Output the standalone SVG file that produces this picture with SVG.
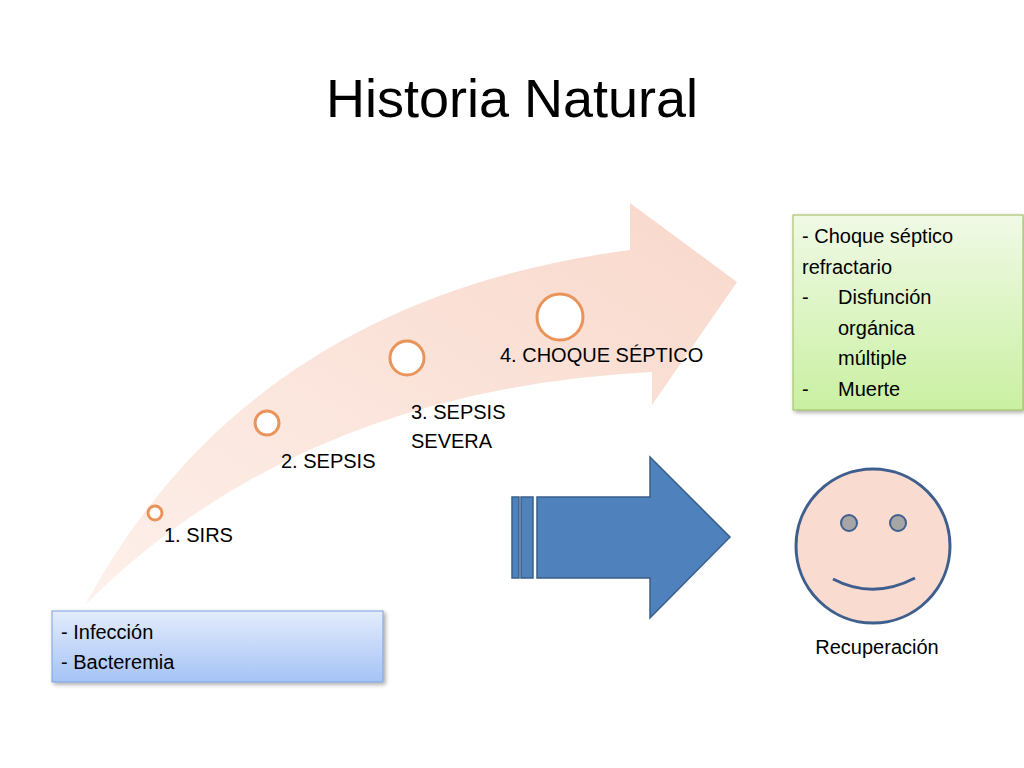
<svg xmlns="http://www.w3.org/2000/svg" width="1024" height="768" viewBox="0 0 1024 768">
<style>
text{font-family:"Liberation Sans","Open Sans",sans-serif;fill:#000}
.t{font-size:20px}
.c{fill:#fff;stroke:#e8945a;stroke-width:3}
</style>
<defs>
<linearGradient id="ga" x1="0" y1="1" x2="1" y2="0"><stop offset="0" stop-color="#fdf0ea"/><stop offset="1" stop-color="#f9d8cb"/></linearGradient>
<linearGradient id="gg" x1="0" y1="0" x2="0" y2="1"><stop offset="0" stop-color="#f0f9e6"/><stop offset="1" stop-color="#c9f0a2"/></linearGradient>
<linearGradient id="gb" x1="0" y1="0" x2="0" y2="1"><stop offset="0" stop-color="#e3ecfc"/><stop offset="1" stop-color="#a5c3f6"/></linearGradient>
<filter id="sh"><feDropShadow dx="2" dy="2" stdDeviation="2" flood-opacity="0.35"/></filter>
</defs>
<rect width="1024" height="768" fill="#fff"/>
<text x="512" y="117" font-size="54" text-anchor="middle">Historia Natural</text>
<g id="curved-arrow">
<path d="M85,605 Q250,300 630,250 L630,203 L737,282 L652,405 L652,372 Q300,390 85,605 Z" fill="url(#ga)"/>
<circle class="c" cx="155" cy="513" r="7"/>
<circle class="c" cx="267" cy="423" r="12"/>
<circle class="c" cx="407" cy="358" r="17"/>
<circle class="c" cx="560" cy="317" r="23"/>
<text class="t" x="164" y="542">1. SIRS</text>
<text class="t" x="281" y="468">2. SEPSIS</text>
<text class="t" x="411" y="419">3. SEPSIS</text>
<text class="t" x="411" y="448">SEVERA</text>
<text class="t" x="500" y="362">4. CHOQUE SÉPTICO</text>
</g>
<g id="box-end">
<rect x="793" y="215" width="230" height="195" fill="url(#gg)" stroke="#9bbb59" filter="url(#sh)"/>
<text class="t" x="802" y="243">- Choque séptico</text>
<text class="t" x="802" y="274">refractario</text>
<text class="t" x="802" y="304">-</text><text class="t" x="838" y="304">Disfunción</text>
<text class="t" x="838" y="335">orgánica</text>
<text class="t" x="838" y="365">múltiple</text>
<text class="t" x="802" y="396">-</text><text class="t" x="838" y="396">Muerte</text>
</g>
<g id="box-start">
<rect x="52" y="611" width="331" height="71" fill="url(#gb)" stroke="#7aa0e0" filter="url(#sh)"/>
<text class="t" x="61" y="639">- Infección</text>
<text class="t" x="61" y="669">- Bacteremia</text>
</g>
<g id="blue-arrow" fill="#4f81bd" stroke="#3a5f8a" stroke-width="1.5">
<rect x="512" y="497" width="7" height="81"/>
<rect x="521" y="497" width="12" height="81"/>
<path d="M537,497 L650,497 L650,457 L730,537 L650,618 L650,578 L537,578 Z"/>
</g>
<g id="smiley">
<circle cx="873" cy="546" r="77" fill="#fadbd0" stroke="#3e5f8e" stroke-width="3"/>
<circle cx="849" cy="523" r="8" fill="#a6a6a6" stroke="#3e5f8e" stroke-width="2"/>
<circle cx="898" cy="523" r="8" fill="#a6a6a6" stroke="#3e5f8e" stroke-width="2"/>
<path d="M833,579 Q873,600 915,578" fill="none" stroke="#3e5f8e" stroke-width="3"/>
<text class="t" x="877" y="654" text-anchor="middle">Recuperación</text>
</g>
<g id="connectors"/>
</svg>
